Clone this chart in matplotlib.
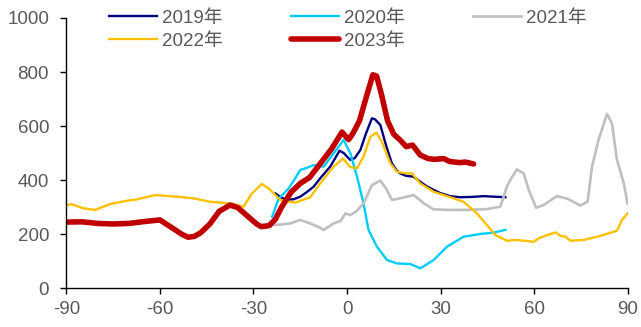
import matplotlib.pyplot as plt

plt.rcParams['font.family'] = ['Liberation Sans', 'Noto Sans CJK SC']
plt.rcParams['axes.unicode_minus'] = False

# 2019
x_2019 = [-23, -21, -19, -17, -15, -13, -10.7, -8.6, -5.4, -2.4, -1, 0, 1.1, 2.5, 4.3, 6, 8, 9, 10.7,
          12.5, 14.4, 16, 17.1, 19, 21.4, 23.5, 25.5, 27.8, 30, 33.1, 36.3, 40, 43.8, 47, 50.8]
y_2019 = [351, 335, 327, 330, 339, 355, 376, 407, 450, 509, 500, 487, 475, 482, 512, 570, 629, 625, 604,
          530, 462, 435, 425, 416, 413, 394, 378, 364, 352, 341, 337, 338, 341, 339, 337]

# 2020
x_2020 = [-24, -22, -18.7, -17, -15, -13, -10.7, -7.5, -4.3, -1.1, 1.1, 3.2, 5.3, 6.9, 9.6, 12.8, 16,
          20.3, 23.5, 25.5, 27.8, 32.1, 37.4, 42.8, 47, 50.8]
y_2020 = [265, 330, 370, 400, 438, 445, 456, 450, 499, 549, 499, 413, 314, 216, 154, 105, 92,
          90, 74, 88, 105, 154, 191, 201, 206, 216]

# 2021
x_2021 = [-24, -21, -18.2, -15, -11.8, -9, -7.5, -4.3, -2, -0.5, 1.1, 3, 5.3, 8, 10.7, 12.5, 14.4, 17.1,
          21.4, 24.7, 27.8, 33, 38.5, 44.9, 49.2, 51.3, 52.4, 54.5, 56.7, 58.3, 60.7, 63.1, 67.3, 70.6,
          74.9, 77.2, 78.6, 80.7, 83.4, 85, 86.6, 88.8, 90]
y_2021 = [234, 236, 240, 253, 240, 226, 216, 240, 250, 277, 271, 285, 314, 382, 398, 370, 327, 333,
          345, 314, 292, 290, 290, 293, 302, 376, 401, 440, 425, 364, 298, 308, 341, 332,
          306, 321, 450, 549, 645, 610, 475, 388, 314]

# 2022
x_2022 = [-90, -88.3, -84.6, -80.8, -76, -70.6, -67.4, -61.6, -54.6, -49.3, -43.9, -40.7, -36.4, -33.2,
          -30.5, -27.3, -25.2, -21.4, -16.6, -11.8, -8.6, -4.3, -1.3, 1.1, 3.2, 5.3, 7.5, 9.4, 11.2, 13.9,
          16, 19.2, 20.9, 23.5, 27.8, 33.1, 37.4, 41.7, 44.9, 47.6, 51.3, 54.5, 59.9, 61.5, 64.2, 66.9,
          68.5, 70.1, 71.7, 76, 81.3, 86.6, 88.2, 90]
y_2022 = [308, 311, 296, 290, 312, 324, 329, 345, 339, 333, 320, 317, 312, 302,
          351, 386, 370, 327, 317, 337, 388, 450, 480, 448, 444, 487, 561, 576, 542, 462,
          431, 425, 425, 388, 357, 337, 320, 277, 234, 197, 176, 179, 172, 185, 197, 207,
          194, 191, 176, 179, 194, 213, 253, 277]

# 2023
x_2023 = [-90, -85, -80, -75, -70, -65, -60, -56.7, -53, -51, -49, -47, -44, -41, -37.5, -35, -32, -29,
          -27.5, -25, -23, -21, -18, -15, -12, -9, -5, -1.6, 0.5, 2, 4, 6, 8.3, 9.5, 11, 13, 15, 17,
          19, 21, 23.5, 26, 28, 31, 33, 36, 38, 40.6]
y_2023 = [245, 246, 240, 238, 240, 247, 253, 228, 200, 189, 192, 205, 238, 285, 308, 298, 268, 238,
          228, 232, 255, 300, 355, 388, 410, 455, 515, 578, 550, 575, 620, 700, 790, 785, 720, 620, 570, 549,
          524, 530, 493, 480, 477, 480, 469, 465, 467, 460]

fig = plt.figure(figsize=(6.41, 3.27), dpi=100)
ax = fig.add_axes([0.1037, 0.1183, 0.8753, 0.8267])

l19, = ax.plot(x_2019, y_2019, color='#000080', lw=1.7, label='2019年')
l20, = ax.plot(x_2020, y_2020, color='#00CCFF', lw=1.7, label='2020年')
l21, = ax.plot(x_2021, y_2021, color='#BFBFBF', lw=1.9, label='2021年')
l22, = ax.plot(x_2022, y_2022, color='#FFC000', lw=1.7, label='2022年')
l23, = ax.plot(x_2023, y_2023, color='#C00000', lw=4.0, label='2023年',
               solid_capstyle='round', solid_joinstyle='round')

ax.set_xlim(-90, 90)
ax.set_ylim(0, 1000)
ax.set_xticks(range(-90, 91, 30))
ax.set_yticks(range(0, 1001, 200))
for s in ['top', 'right']:
    ax.spines[s].set_visible(False)
for s in ['left', 'bottom']:
    ax.spines[s].set_linewidth(1.0)
ax.tick_params(axis='both', direction='out', length=4, width=1.0, labelsize=13.5,
               labelcolor='#595959')
ax.tick_params(axis='y', pad=8.5)
ax.tick_params(axis='x', pad=5)

# legend fills column by column, so reorder to get rows 2019/2020/2021 and 2022/2023
handles = [l19, l22, l20, l23, l21]
leg = fig.legend(handles=handles, labels=[h.get_label() for h in handles],
                 loc='upper left', bbox_to_anchor=(0.1705, 0.971), ncol=3, frameon=False,
                 fontsize=13.5, handlelength=2.56, handletextpad=0.24, columnspacing=3.66,
                 labelspacing=0.32, borderpad=0, borderaxespad=0)
for t in leg.get_texts():
    t.set_color('#595959')

fig.savefig('out.png', dpi=100)
